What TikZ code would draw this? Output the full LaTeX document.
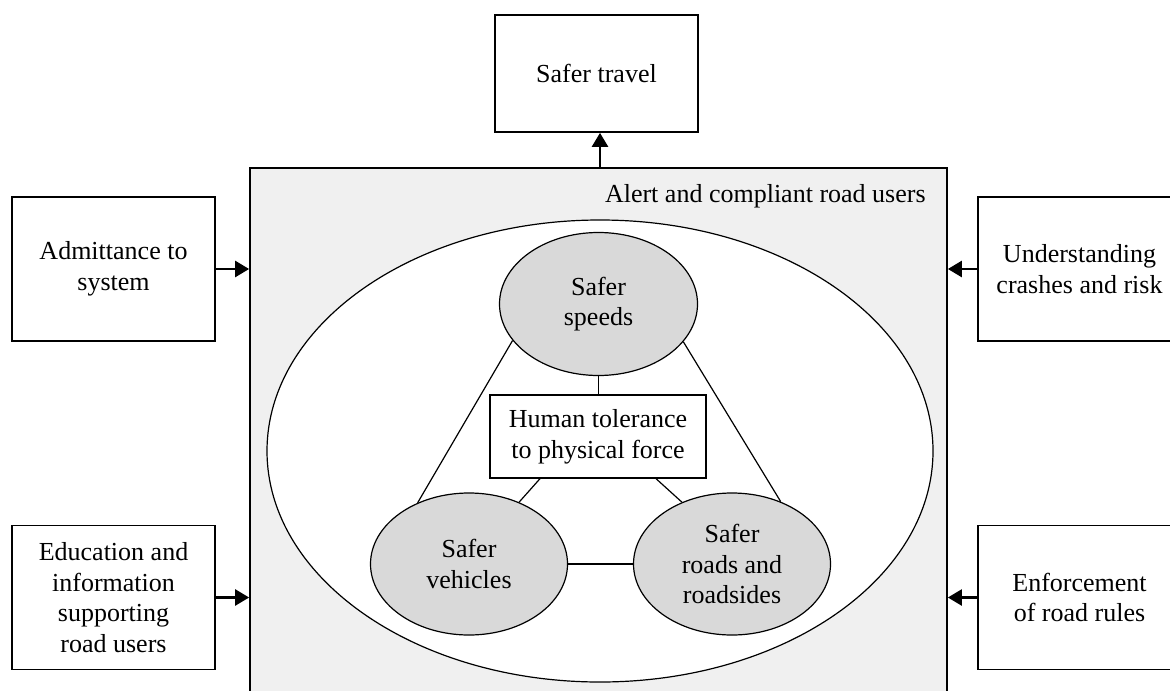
\documentclass[tikz,border=0pt]{standalone}
\usepackage{fontspec}
\setmainfont{Liberation Serif}
\usetikzlibrary{shapes.geometric,arrows.meta}
\definecolor{panelgray}{HTML}{F0F0F0}
\definecolor{ovalgray}{HTML}{D9D9D9}
\tikzset{
  sidebox/.style={draw,line width=.85pt,align=center,minimum width=101.5pt,minimum height=72pt,inner sep=0pt},
  oval/.style={draw,ellipse,fill=ovalgray,line width=.6pt,align=center,inner sep=0pt},
  feed/.style={-{Triangle[length=7pt,width=8pt]},line width=1.2pt},
  link/.style={line width=.6pt}
}
\begin{document}
\begin{tikzpicture}[x=.5pt,y=-.5pt,font=\fontsize{13}{15.3}\selectfont]
\useasboundingbox (0,0) rectangle (1170,690);
\node[draw,fill=panelgray,line width=.85pt,minimum width=348.5pt,minimum height=266pt,inner sep=0pt] (panel) at (598.5,434) {};
\node[anchor=base east,inner sep=0pt] (alert) at (926,202) {Alert and compliant road users};
\draw[fill=white,line width=.6pt] (600,451) ellipse [x radius=333,y radius=231];
\node[sidebox,minimum height=58.5pt] (travel) at (596.5,73.5) {Safer travel};
\node[sidebox] (admit) at (113.5,269) {Admittance to\\system};
\node[sidebox] (educ) at (113.5,597.5) {Education and\\information\\supporting\\road users};
\node[sidebox] (crash) at (1079.5,269) {Understanding\\crashes and risk};
\node[sidebox] (enforce) at (1079.5,597.5) {Enforcement\\of road rules};
% core of the system
\node[oval,minimum width=99pt,minimum height=71.5pt] (speeds) at (598.5,304) {Safer\\speeds};
\node[oval,minimum width=98.5pt,minimum height=71pt] (vehicles) at (469,564) {Safer\\vehicles};
\node[oval,minimum width=98.5pt,minimum height=71pt] (roads) at (732,564) {Safer\\roads and\\roadsides};
\node[draw,line width=.6pt,align=center,minimum width=108pt,minimum height=41.5pt,inner sep=0pt] (tol) at (598,436.5) {Human tolerance\\to physical force};
\draw[link] (speeds.203)--(vehicles.130);
\draw[link] (speeds.336)--(roads.52);
\draw[link] (vehicles.east)--(roads.west);
\draw[link] (speeds.south)--(speeds.south|-tol.north);
\draw[link] (tol.216)--(vehicles.51);
\draw[link] (tol.324)--(roads.129);
% inputs and output
\coordinate (top) at (600,168);
\draw[feed] (top)--(top|-travel.south);
\draw[feed] (admit.east)--(admit.east-|panel.west);
\draw[feed] (educ.east)--(educ.east-|panel.west);
\draw[feed] (crash.west)--(crash.west-|panel.east);
\draw[feed] (enforce.west)--(enforce.west-|panel.east);
\end{tikzpicture}
\end{document}
